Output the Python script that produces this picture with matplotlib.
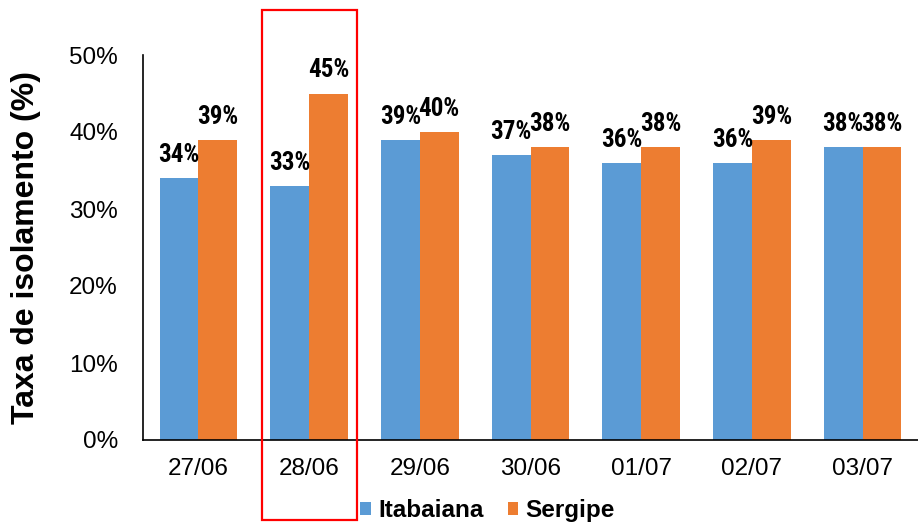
import matplotlib.pyplot as plt
from matplotlib.patches import Rectangle
import numpy as np

datas = ["27/06", "28/06", "29/06", "30/06", "01/07", "02/07", "03/07"]
itabaiana = [34, 33, 39, 37, 36, 36, 38]
sergipe = [39, 45, 40, 38, 38, 39, 38]

azul = "#5B9BD5"
laranja = "#ED7D31"
condensada = ["Roboto Condensed", "Liberation Sans Narrow", "DejaVu Sans"]

plt.rcParams["font.family"] = ["Liberation Sans", "DejaVu Sans"]

fig = plt.figure(figsize=(9.18, 5.22), dpi=100)
ax = fig.add_axes([143 / 918, 1 - 440 / 522, 775 / 918, 385 / 522])

x = np.arange(len(datas))
w = 0.35
b1 = ax.bar(x - w / 2, itabaiana, w, color=azul, label="Itabaiana")
b2 = ax.bar(x + w / 2, sergipe, w, color=laranja, label="Sergipe")

# rótulos de valor acima das barras (fonte condensada)
for barras in (b1, b2):
    for r in barras:
        ax.annotate("%d%%" % r.get_height(),
                    (r.get_x() + r.get_width() / 2, r.get_height()),
                    xytext=(0, 8), textcoords="offset points",
                    ha="center", va="bottom", fontsize=18,
                    fontweight="bold", family=condensada,
                    fontstretch="condensed")

ax.set_xlim(-0.5, len(datas) - 0.5)
ax.set_ylim(0, 50)
ax.set_yticks(range(0, 51, 10))
ax.set_yticklabels(["%d%%" % v for v in range(0, 51, 10)])
ax.set_xticks(x)
ax.set_xticklabels(datas)
ax.tick_params(axis="both", length=0, labelsize=17.5)
ax.tick_params(axis="x", pad=13)
ax.tick_params(axis="y", pad=18)
for s in ("top", "right"):
    ax.spines[s].set_visible(False)
ax.spines["left"].set_linewidth(1.2)
ax.spines["bottom"].set_linewidth(1.2)

ax.set_ylabel("Taxa de isolamento (%)", fontsize=23, fontweight="bold")
ax.yaxis.set_label_coords(-0.132, 0.5)

fig.legend(handles=[b1, b2], loc="center", bbox_to_anchor=(0.531, 0.022),
           ncol=2, frameon=False, handlelength=0.42, handleheight=0.42,
           handletextpad=0.3, columnspacing=1.0,
           prop={"size": 17.5, "weight": "bold"})

# destaque do dia 28/06
fig.patches.append(Rectangle((262 / 918, 2 / 522), 95 / 918, 510 / 522,
                             transform=fig.transFigure, fill=False,
                             edgecolor="red", linewidth=1.6))

fig.savefig("out.png", dpi=100)
